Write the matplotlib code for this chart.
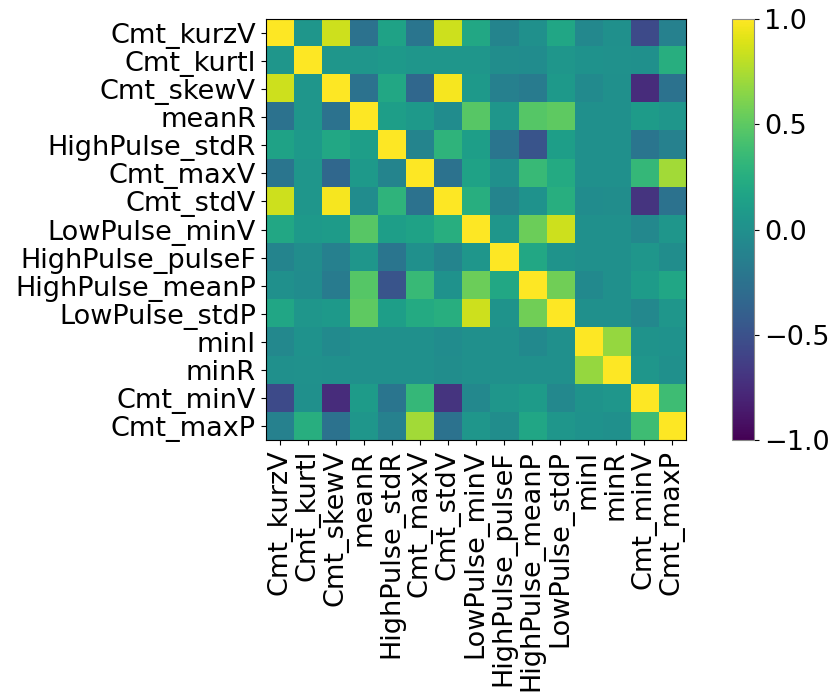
import numpy as np
import matplotlib
matplotlib.use("Agg")
import matplotlib.pyplot as plt

features = ["Cmt_kurzV", "Cmt_kurtI", "Cmt_skewV", "meanR", "HighPulse_stdR",
            "Cmt_maxV", "Cmt_stdV", "LowPulse_minV", "HighPulse_pulseF",
            "HighPulse_meanP", "LowPulse_stdP", "minI", "minR", "Cmt_minV", "Cmt_maxP"]

# correlation matrix
corr = np.array([
    [1.00, 0.05, 0.85, -0.25, 0.15, -0.22, 0.85, 0.20, -0.10, 0.00, 0.18, -0.07, 0.00, -0.55, -0.12],
    [0.05, 1.00, 0.05, 0.05, 0.08, 0.05, 0.05, 0.05, -0.02, -0.03, 0.05, 0.02, 0.01, 0.00, 0.25],
    [0.85, 0.05, 1.00, -0.25, 0.20, -0.33, 0.97, 0.08, -0.13, -0.17, 0.08, -0.04, 0.00, -0.75, -0.25],
    [-0.25, 0.05, -0.25, 1.00, 0.12, 0.08, -0.03, 0.48, 0.05, 0.47, 0.50, 0.00, 0.00, 0.10, 0.05],
    [0.15, 0.08, 0.20, 0.12, 1.00, -0.10, 0.30, 0.12, -0.22, -0.48, 0.12, 0.00, 0.00, -0.22, -0.12],
    [-0.22, 0.05, -0.33, 0.08, -0.10, 1.00, -0.25, 0.15, 0.00, 0.35, 0.22, 0.00, 0.00, 0.33, 0.72],
    [0.85, 0.05, 0.97, -0.03, 0.30, -0.25, 1.00, 0.25, -0.10, 0.02, 0.25, -0.03, -0.02, -0.70, -0.25],
    [0.20, 0.08, 0.10, 0.48, 0.12, 0.15, 0.25, 1.00, 0.05, 0.55, 0.85, 0.00, 0.00, -0.07, 0.05],
    [-0.10, -0.02, -0.13, 0.05, -0.22, 0.00, -0.10, 0.05, 1.00, 0.20, 0.03, 0.00, 0.00, 0.05, -0.02],
    [0.00, -0.03, -0.17, 0.47, -0.48, 0.35, 0.02, 0.55, 0.20, 1.00, 0.57, -0.05, 0.00, 0.10, 0.18],
    [0.18, 0.05, 0.08, 0.50, 0.12, 0.22, 0.25, 0.85, 0.03, 0.57, 1.00, 0.00, 0.00, -0.07, 0.05],
    [-0.07, 0.02, -0.04, 0.00, 0.00, 0.00, -0.03, 0.00, 0.00, -0.05, 0.00, 1.00, 0.68, 0.03, 0.02],
    [0.00, 0.01, 0.00, 0.00, 0.00, 0.00, -0.02, 0.00, 0.00, 0.00, 0.00, 0.68, 1.00, 0.05, 0.00],
    [-0.55, 0.00, -0.75, 0.10, -0.22, 0.33, -0.70, -0.07, 0.05, 0.10, -0.07, 0.03, 0.05, 1.00, 0.38],
    [-0.12, 0.25, -0.25, 0.05, -0.12, 0.72, -0.25, 0.05, -0.02, 0.18, 0.05, 0.02, 0.00, 0.38, 1.00],
])

fig = plt.figure(figsize=(8.3, 6.92), dpi=100)
ax = fig.add_axes([0.32, 0.364, 0.5065, 0.6085])
cax = fig.add_axes([0.882, 0.364, 0.027, 0.6085])

im = ax.imshow(corr, cmap="viridis", vmin=-1, vmax=1, aspect="auto")
ax.set_xticks(range(len(features)))
ax.set_yticks(range(len(features)))
ax.set_xticklabels(features, rotation=90, fontsize=19.5)
ax.set_yticklabels(features, fontsize=19.5)

cb = fig.colorbar(im, cax=cax, ticks=[-1.0, -0.5, 0.0, 0.5, 1.0])
cb.ax.tick_params(labelsize=19.5)
cb.outline.set_edgecolor("#888888")

fig.savefig("out.png", dpi=100)
